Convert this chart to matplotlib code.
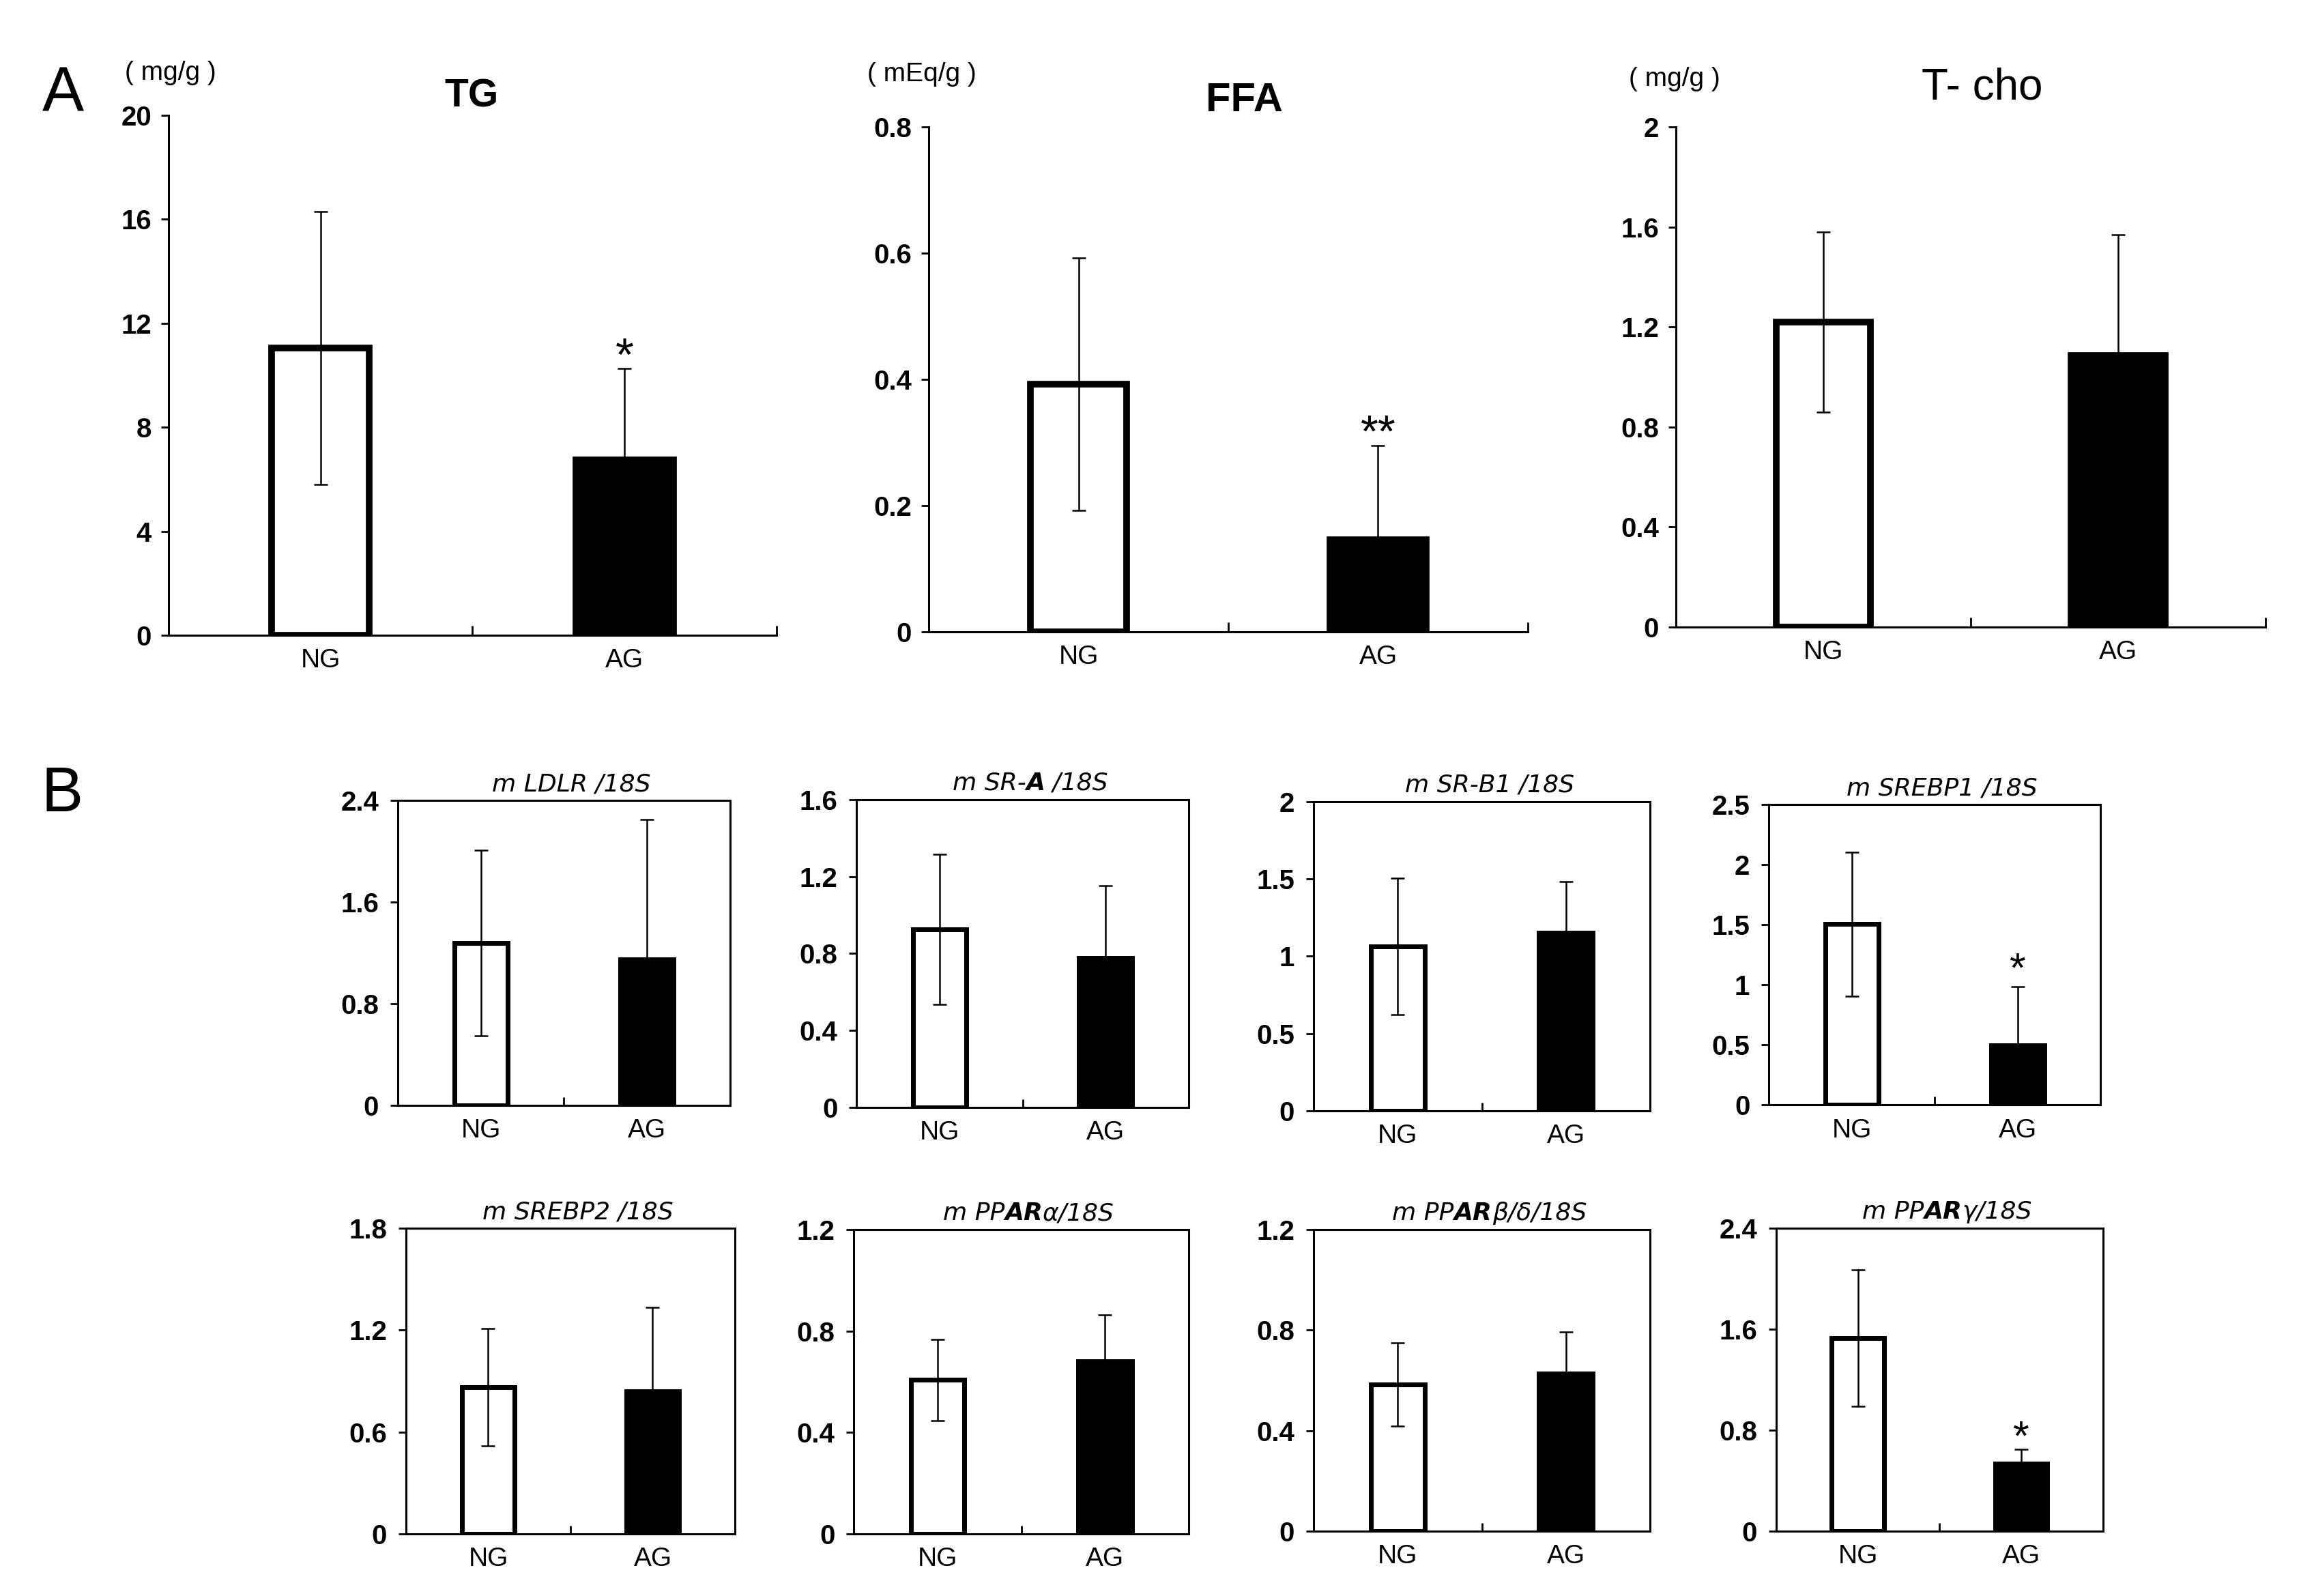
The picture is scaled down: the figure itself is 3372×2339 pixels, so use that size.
import numpy as np
import matplotlib.pyplot as plt
from matplotlib.offsetbox import TextArea, HPacker, AnnotationBbox

plt.rcParams['font.family'] = ['Liberation Sans', 'DejaVu Sans']

groups = ["NG", "AG"]

# panel A (mean, sd)
tg_mean = [11.05, 6.74]
tg_sd = [5.25, 3.52]
ffa_mean = [0.392, 0.146]
ffa_sd = [0.200, 0.149]
tcho_mean = [1.219, 1.085]
tcho_sd = [0.360, 0.484]

# panel B, relative mRNA (mean, sd)
ldlr_mean = [1.28, 1.15]
ldlr_sd = [0.73, 1.10]
sra_mean = [0.924, 0.776]
sra_sd = [0.39, 0.376]
srb1_mean = [1.064, 1.151]
srb1_sd = [0.44, 0.33]
srebp1_mean = [1.505, 0.495]
srebp1_sd = [0.60, 0.49]
srebp2_mean = [0.865, 0.839]
srebp2_sd = [0.345, 0.495]
ppara_mean = [0.607, 0.680]
ppara_sd = [0.160, 0.183]
ppard_mean = [0.583, 0.628]
ppard_sd = [0.165, 0.165]
pparg_mean = [1.529, 0.533]
pparg_sd = [0.54, 0.116]

# significance marks (text, y)
tg_sig = ("*", 11.2)
ffa_sig = ("**", 0.334)
srebp1_sig = ("*", 1.22)
pparg_sig = ("*", 0.83)


def fmt(v):
    return f"{round(v, 2):g}"


def draw_bars(ax, mean, sd, lw):
    x = np.arange(len(groups))
    ax.bar(x, mean, width=0.32, color=["white", "black"], edgecolor="black",
           linewidth=lw, zorder=2)
    ax.errorbar(x, mean, yerr=sd, fmt="none", ecolor="black", elinewidth=1.8,
                capsize=7, capthick=1.8, zorder=3)
    ax.set_xlim(-0.5, 1.5)


def add_sig(ax, sig, size):
    txt, y = sig
    ax.annotate(txt, xy=(1, y), xytext=(0, -0.56 * size), textcoords="offset points",
                ha="center", va="baseline", fontsize=size)


def panel_a(rect, mean, sd, ymax, step):
    ax = fig.add_axes(rect)
    draw_bars(ax, mean, sd, 7)
    ax.set_ylim(0, ymax)
    ticks = np.arange(0, ymax + step / 2, step)
    ax.set_yticks(ticks, labels=[fmt(t) for t in ticks], fontweight="bold", fontsize=29)
    ax.set_xticks([0, 1], labels=groups, fontsize=28)
    ax.set_xticks([0.5, 1.5], minor=True)
    ax.tick_params(axis="x", which="major", length=0, pad=14)
    ax.tick_params(axis="x", which="minor", direction="in", length=10, width=2)
    ax.tick_params(axis="y", direction="out", length=8, width=2, pad=10)
    for s in ["top", "right"]:
        ax.spines[s].set_visible(False)
    for s in ["left", "bottom"]:
        ax.spines[s].set_linewidth(2.2)
    return ax


def panel_b(rect, mean, sd, ymax, step, title):
    ax = fig.add_axes(rect)
    draw_bars(ax, mean, sd, 5)
    ax.set_ylim(0, ymax)
    ticks = np.arange(0, ymax + step / 2, step)
    ax.set_yticks(ticks, labels=[fmt(t) for t in ticks], fontweight="bold", fontsize=29)
    ax.set_xticks([0, 1], labels=groups, fontsize=28)
    ax.set_xticks([0.5], minor=True)
    ax.tick_params(axis="x", which="major", length=0, pad=14)
    ax.tick_params(axis="x", which="minor", direction="in", length=9, width=2)
    ax.tick_params(axis="y", direction="out", length=8, width=2, pad=12)
    for s in ax.spines.values():
        s.set_linewidth(2.2)
    boxes = [TextArea(t, textprops=dict(fontsize=26, fontstyle="italic",
                                        family="DejaVu Sans",
                                        fontweight="bold" if b else "normal"))
             for t, b in title]
    pack = HPacker(children=boxes, align="baseline", pad=0, sep=0)
    ab = AnnotationBbox(pack, (0.5, 1.0), xycoords="axes fraction", xybox=(8, 5),
                        boxcoords="offset points", box_alignment=(0.5, 0), frameon=False)
    ax.add_artist(ab)
    return ax


fig = plt.figure(figsize=(33.73, 23.39), dpi=100)

# ---- A ----
ax = panel_a([0.0732, 0.6020, 0.2642, 0.3258], tg_mean, tg_sd, 20, 4)
add_sig(ax, tg_sig, 50)
ax = panel_a([0.4035, 0.6041, 0.2603, 0.3164], ffa_mean, ffa_sd, 0.8, 0.2)
add_sig(ax, ffa_sig, 48)
panel_a([0.7281, 0.6071, 0.2562, 0.3134], tcho_mean, tcho_sd, 2, 0.4)

fig.text(0.0273, 0.9303, "A", fontsize=66, ha="center", va="baseline")
fig.text(0.2049, 0.9333, "TG", fontsize=41, fontweight="bold", ha="center", va="baseline")
fig.text(0.5405, 0.9303, "FFA", fontsize=43, fontweight="bold", ha="center", va="baseline")
fig.text(0.8613, 0.9380, "T- cho", fontsize=46, ha="center", va="baseline")
fig.text(0.0741, 0.9500, "( mg/g )", fontsize=28, ha="center", va="baseline")
fig.text(0.4005, 0.9490, "( mEq/g )", fontsize=28, ha="center", va="baseline")
fig.text(0.7275, 0.9460, "( mg/g )", fontsize=28, ha="center", va="baseline")

# ---- B ----
fig.text(0.0270, 0.4917, "B", fontsize=66, ha="center", va="baseline")

panel_b([0.1728, 0.3074, 0.1444, 0.1911], ldlr_mean, ldlr_sd, 2.4, 0.8,
        [("m LDLR /18S", False)])
panel_b([0.3721, 0.3062, 0.1444, 0.1928], sra_mean, sra_sd, 1.6, 0.4,
        [("m SR-", False), ("A", True), (" /18S", False)])
panel_b([0.5707, 0.3040, 0.1462, 0.1937], srb1_mean, srb1_sd, 2, 0.5,
        [("m SR-B1 /18S", False)])
ax = panel_b([0.7685, 0.3078, 0.1441, 0.1881], srebp1_mean, srebp1_sd, 2.5, 0.5,
             [("m SREBP1 /18S", False)])
add_sig(ax, srebp1_sig, 44)

panel_b([0.1764, 0.0389, 0.1429, 0.1915], srebp2_mean, srebp2_sd, 1.8, 0.6,
        [("m SREBP2 /18S", False)])
panel_b([0.3709, 0.0389, 0.1456, 0.1907], ppara_mean, ppara_sd, 1.2, 0.4,
        [("m PP", False), ("AR", True), ("\u03b1/18S", False)])
panel_b([0.5707, 0.0406, 0.1462, 0.1890], ppard_mean, ppard_sd, 1.2, 0.4,
        [("m PP", False), ("AR", True), ("\u03b2/\u03b4/18S", False)])
ax = panel_b([0.7717, 0.0406, 0.1420, 0.1898], pparg_mean, pparg_sd, 2.4, 0.8,
             [("m PP", False), ("AR", True), ("\u03b3/18S", False)])
add_sig(ax, pparg_sig, 44)

fig.savefig("out.png", dpi=100, facecolor="white")
